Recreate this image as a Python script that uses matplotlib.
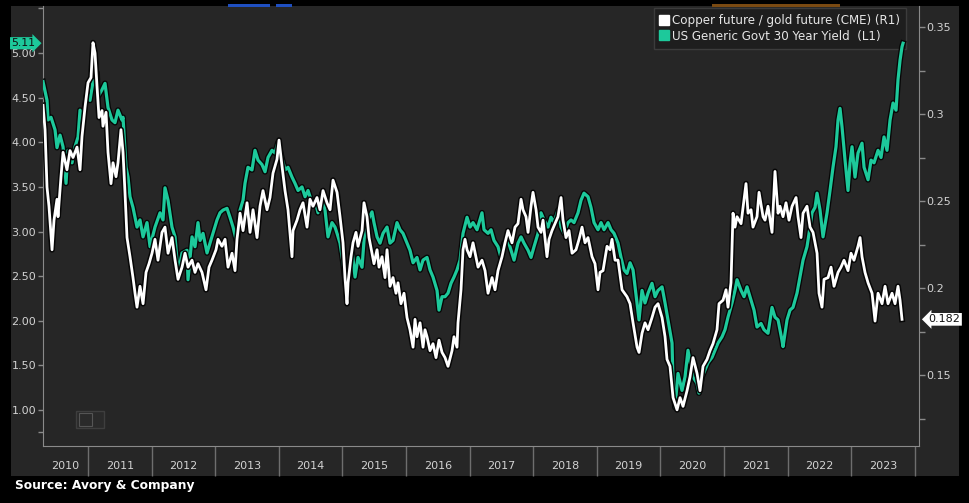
import matplotlib.pyplot as plt
import matplotlib.patheffects as pe
import matplotlib.transforms as mtransforms
from matplotlib.patches import Rectangle
from matplotlib.lines import Line2D

# US Generic Govt 30 Year Yield (left axis), decimal years
yield_years = [
    2010.292, 2010.355, 2010.371, 2010.418, 2010.481, 2010.512, 2010.560, 2010.607, 2010.654, 2010.685,
    2010.748, 2010.795, 2010.843, 2010.874, 2010.921, 2010.984, 2011.031, 2011.078, 2011.141, 2011.157,
    2011.220, 2011.267, 2011.314, 2011.377, 2011.424, 2011.471, 2011.534, 2011.550, 2011.597, 2011.629,
    2011.660, 2011.707, 2011.770, 2011.817, 2011.865, 2011.927, 2011.975, 2012.053, 2012.132, 2012.179,
    2012.210, 2012.258, 2012.320, 2012.368, 2012.415, 2012.478, 2012.556,
    2012.572, 2012.635, 2012.682, 2012.729, 2012.761, 2012.808, 2012.871, 2012.918, 2012.965, 2013.028,
    2013.075, 2013.122, 2013.185, 2013.232, 2013.280, 2013.342, 2013.390, 2013.437, 2013.468, 2013.515,
    2013.578, 2013.625, 2013.673, 2013.735, 2013.783, 2013.830, 2013.893, 2013.940, 2013.987, 2014.050,
    2014.097, 2014.144, 2014.207, 2014.254, 2014.302, 2014.364, 2014.412, 2014.459, 2014.522, 2014.569,
    2014.616, 2014.679, 2014.726, 2014.773, 2014.836,
    2014.883, 2014.915, 2014.962, 2015.009, 2015.072, 2015.103, 2015.151, 2015.198, 2015.245, 2015.308,
    2015.355, 2015.402, 2015.465, 2015.496, 2015.544, 2015.591, 2015.638, 2015.701, 2015.748, 2015.795,
    2015.858, 2015.905, 2015.952, 2016.015, 2016.062, 2016.110, 2016.172, 2016.220, 2016.267, 2016.330,
    2016.377, 2016.424, 2016.487, 2016.518, 2016.566, 2016.613, 2016.660, 2016.707, 2016.754, 2016.801,
    2016.849, 2016.896, 2016.959, 2017.006, 2017.053, 2017.116,
    2017.194, 2017.226, 2017.289, 2017.336, 2017.383, 2017.446, 2017.493, 2017.540, 2017.603, 2017.651,
    2017.698, 2017.760, 2017.808, 2017.855, 2017.918, 2017.965, 2018.012, 2018.075, 2018.122, 2018.169,
    2018.232, 2018.279, 2018.327, 2018.389, 2018.437, 2018.484, 2018.547, 2018.594, 2018.641, 2018.704,
    2018.751, 2018.798, 2018.861, 2018.908, 2018.956, 2019.018, 2019.066, 2019.113, 2019.176, 2019.223,
    2019.270, 2019.333, 2019.380, 2019.427,
    2019.474, 2019.522, 2019.569, 2019.632, 2019.663, 2019.710, 2019.757, 2019.805, 2019.867, 2019.915,
    2019.962, 2020.025, 2020.072, 2020.119, 2020.182, 2020.198, 2020.229, 2020.276, 2020.339, 2020.386,
    2020.433, 2020.481, 2020.512, 2020.575, 2020.606, 2020.654, 2020.701, 2020.748, 2020.811, 2020.858,
    2020.905, 2020.968, 2021.015, 2021.062, 2021.125, 2021.172, 2021.204, 2021.267, 2021.314, 2021.361,
    2021.424, 2021.471, 2021.518, 2021.581, 2021.628, 2021.691,
    2021.754, 2021.801, 2021.849, 2021.911, 2021.927, 2021.990, 2022.037, 2022.084, 2022.147, 2022.194,
    2022.242, 2022.304, 2022.352, 2022.383, 2022.430, 2022.462, 2022.509, 2022.556, 2022.619, 2022.666,
    2022.713, 2022.760, 2022.792, 2022.823, 2022.855, 2022.902, 2022.949, 2022.981, 2023.012, 2023.059,
    2023.106, 2023.169, 2023.201, 2023.264, 2023.311, 2023.358, 2023.421, 2023.468, 2023.515, 2023.562,
    2023.610, 2023.657, 2023.704, 2023.735, 2023.767, 2023.798, 2023.814,
]
yield_values = [
    4.68, 4.47, 4.25, 4.28, 4.14, 3.94, 4.08, 3.95, 3.54, 3.91,
    3.77, 3.95, 4.06, 4.36, 4.28, 4.55, 4.47, 4.68, 4.78, 4.51,
    4.59, 4.66, 4.39, 4.25, 4.22, 4.36, 4.25, 4.28, 3.72, 3.61,
    3.39, 3.27, 3.05, 3.13, 2.94, 3.10, 2.83, 3.05, 3.21, 3.13,
    3.49, 3.35, 3.05, 2.94, 2.53, 2.76, 2.79,
    2.46, 2.94, 2.83, 3.10, 2.90, 2.98, 2.76, 2.87, 2.98, 3.13,
    3.21, 3.24, 3.26, 3.16, 3.05, 2.87, 3.24, 3.35, 3.54, 3.72,
    3.69, 3.91, 3.80, 3.75, 3.67, 3.83, 3.91, 3.88, 4.00, 3.82,
    3.69, 3.72, 3.61, 3.54, 3.46, 3.50, 3.39, 3.46, 3.32, 3.35,
    3.21, 3.43, 3.24, 2.94, 3.10,
    3.05, 2.98, 2.87, 2.65, 2.27, 2.57, 2.79, 2.49, 2.71, 2.60,
    3.05, 3.13, 3.22, 3.10, 2.94, 2.87, 2.98, 3.05, 2.87, 2.90,
    3.10, 3.02, 2.98, 2.87, 2.79, 2.65, 2.71, 2.57, 2.68, 2.71,
    2.57, 2.49, 2.34, 2.12, 2.27, 2.27, 2.31, 2.42, 2.49, 2.57,
    2.68, 2.98, 3.16, 3.05, 3.10, 3.02,
    3.21, 3.02, 2.98, 3.02, 2.90, 2.83, 2.71, 2.87, 2.90, 2.79,
    2.68, 2.87, 2.94, 2.87, 2.79, 2.71, 2.83, 2.98, 3.21, 3.13,
    3.05, 3.16, 3.10, 3.24, 3.05, 2.98, 3.10, 3.13, 3.10, 3.21,
    3.35, 3.43, 3.39, 3.27, 3.10, 3.02, 3.10, 3.02, 3.10, 3.02,
    2.98, 2.87, 2.71, 2.57,
    2.53, 2.65, 2.57, 2.20, 2.01, 2.34, 2.20, 2.31, 2.42, 2.27,
    2.34, 2.38, 2.20, 2.01, 1.75, 1.30, 1.03, 1.41, 1.22, 1.37,
    1.67, 1.48, 1.37, 1.30, 1.19, 1.37, 1.45, 1.53, 1.59, 1.67,
    1.75, 1.82, 1.90, 2.04, 2.20, 2.34, 2.46, 2.34, 2.27, 2.38,
    2.23, 2.12, 1.93, 1.97, 1.90, 1.86,
    2.15, 2.04, 2.01, 1.78, 1.71, 2.01, 2.12, 2.15, 2.31, 2.49,
    2.68, 2.83, 3.05, 3.21, 3.27, 3.43, 3.24, 2.94, 3.21, 3.46,
    3.72, 3.95, 4.25, 4.38, 4.17, 3.80, 3.46, 3.77, 3.95, 3.61,
    3.88, 3.99, 3.72, 3.58, 3.80, 3.77, 3.91, 3.83, 4.06, 3.91,
    4.25, 4.44, 4.36, 4.70, 4.92, 5.07, 5.11,
]

# Copper future / gold future (right axis), decimal years
ratio_years = [
    2010.292, 2010.324, 2010.355, 2010.386, 2010.434, 2010.465, 2010.512, 2010.528, 2010.575, 2010.607,
    2010.669, 2010.717, 2010.764, 2010.827, 2010.874, 2010.905, 2010.953, 2011.000, 2011.047, 2011.078,
    2011.110, 2011.141, 2011.173, 2011.220, 2011.235, 2011.283, 2011.314, 2011.361, 2011.393, 2011.440,
    2011.471, 2011.518, 2011.550, 2011.581, 2011.613, 2011.660, 2011.707, 2011.739, 2011.770, 2011.817,
    2011.865, 2011.912, 2011.959, 2012.006, 2012.053, 2012.100, 2012.163, 2012.210, 2012.258, 2012.320,
    2012.368, 2012.415, 2012.478, 2012.525,
    2012.572, 2012.635, 2012.682, 2012.729, 2012.792, 2012.855, 2012.902, 2012.949,
    2013.012, 2013.044, 2013.106, 2013.154, 2013.201, 2013.264, 2013.311, 2013.342, 2013.390, 2013.437,
    2013.500, 2013.547, 2013.594, 2013.657, 2013.704, 2013.751, 2013.814, 2013.861, 2013.908, 2013.971,
    2014.003, 2014.050, 2014.097, 2014.144, 2014.207, 2014.223, 2014.286, 2014.333, 2014.380, 2014.443,
    2014.490, 2014.537, 2014.600, 2014.647, 2014.695, 2014.757,
    2014.805, 2014.852, 2014.915, 2014.962,
    2015.009, 2015.040, 2015.072, 2015.088, 2015.135, 2015.166, 2015.213, 2015.245, 2015.308, 2015.339,
    2015.386, 2015.418, 2015.465, 2015.496, 2015.544, 2015.575, 2015.622, 2015.669, 2015.701, 2015.748,
    2015.795, 2015.842, 2015.874, 2015.921, 2015.968,
    2016.015, 2016.062, 2016.110, 2016.141, 2016.172, 2016.220, 2016.267, 2016.298, 2016.330, 2016.377,
    2016.424, 2016.471, 2016.518, 2016.566, 2016.613, 2016.660, 2016.723, 2016.754, 2016.801, 2016.817,
    2016.864, 2016.896, 2016.927, 2016.959,
    2017.006, 2017.053,
    2017.132, 2017.194, 2017.242, 2017.289, 2017.352, 2017.399, 2017.446, 2017.509, 2017.556, 2017.603,
    2017.666, 2017.713, 2017.760, 2017.808, 2017.839, 2017.886, 2017.918, 2017.965, 2017.996,
    2018.044, 2018.075, 2018.122, 2018.154, 2018.216, 2018.248, 2018.295, 2018.342, 2018.389, 2018.437,
    2018.468, 2018.515, 2018.562, 2018.610, 2018.672, 2018.720, 2018.767, 2018.814, 2018.861, 2018.924,
    2018.971,
    2019.018, 2019.050, 2019.097, 2019.160, 2019.207, 2019.238, 2019.286, 2019.333, 2019.396,
    2019.474, 2019.522, 2019.569, 2019.632, 2019.663, 2019.710, 2019.757, 2019.805, 2019.867, 2019.915,
    2019.962,
    2020.025, 2020.072, 2020.103, 2020.150, 2020.198, 2020.261, 2020.308, 2020.355, 2020.418, 2020.465,
    2020.512, 2020.575, 2020.622, 2020.669, 2020.732, 2020.779, 2020.826, 2020.889, 2020.921, 2020.984,
    2021.031, 2021.062, 2021.109, 2021.141, 2021.172, 2021.204, 2021.267, 2021.314, 2021.345, 2021.377,
    2021.424, 2021.455, 2021.518, 2021.550, 2021.613,
    2021.644, 2021.691, 2021.754, 2021.801, 2021.849, 2021.880, 2021.927, 2021.974,
    2022.021, 2022.069, 2022.132, 2022.163, 2022.210, 2022.242, 2022.304, 2022.352, 2022.399, 2022.462,
    2022.493, 2022.540, 2022.572, 2022.635, 2022.682, 2022.729, 2022.792, 2022.839, 2022.886, 2022.949,
    2022.996,
    2023.043, 2023.106, 2023.138, 2023.169, 2023.216, 2023.264, 2023.327, 2023.374, 2023.421, 2023.484,
    2023.531, 2023.578, 2023.641, 2023.688, 2023.735, 2023.767, 2023.798,
]
ratio_values = [
    0.305, 0.291, 0.258, 0.247, 0.222, 0.239, 0.251, 0.241, 0.264, 0.278,
    0.268, 0.279, 0.275, 0.281, 0.268, 0.287, 0.304, 0.318, 0.321, 0.341,
    0.335, 0.316, 0.298, 0.302, 0.293, 0.301, 0.278, 0.260, 0.272, 0.264,
    0.272, 0.291, 0.278, 0.255, 0.229, 0.218, 0.206, 0.197, 0.189, 0.201,
    0.191, 0.209, 0.214, 0.220, 0.228, 0.216, 0.232, 0.235, 0.220, 0.229,
    0.216, 0.205, 0.212, 0.220,
    0.212, 0.216, 0.209, 0.214, 0.209, 0.199, 0.212, 0.216,
    0.222, 0.228, 0.224, 0.228, 0.212, 0.220, 0.210, 0.228, 0.243, 0.233,
    0.249, 0.232, 0.245, 0.229, 0.247, 0.256, 0.245, 0.252, 0.266, 0.274,
    0.285, 0.270, 0.256, 0.245, 0.218, 0.233, 0.239, 0.245, 0.249, 0.235,
    0.251, 0.247, 0.252, 0.245, 0.256, 0.249,
    0.245, 0.262, 0.255, 0.241,
    0.226, 0.206, 0.191, 0.203, 0.218, 0.226, 0.232, 0.224, 0.233, 0.249,
    0.241, 0.229, 0.220, 0.214, 0.222, 0.212, 0.218, 0.206, 0.222, 0.201,
    0.206, 0.197, 0.203, 0.191, 0.197,
    0.183, 0.176, 0.166, 0.182, 0.172, 0.180, 0.166, 0.176, 0.172, 0.164,
    0.168, 0.160, 0.170, 0.163, 0.160, 0.155, 0.164, 0.172, 0.166, 0.180,
    0.199, 0.222, 0.228, 0.222,
    0.218, 0.226,
    0.212, 0.216, 0.210, 0.197, 0.206, 0.199, 0.210, 0.218, 0.226, 0.233,
    0.226, 0.235, 0.237, 0.251, 0.245, 0.241, 0.232, 0.247, 0.255,
    0.245, 0.235, 0.232, 0.239, 0.218, 0.228, 0.233, 0.237, 0.241, 0.252,
    0.239, 0.229, 0.233, 0.220, 0.222, 0.228, 0.235, 0.226, 0.229, 0.218,
    0.214,
    0.199, 0.209, 0.210, 0.224, 0.222, 0.228, 0.216, 0.216, 0.199,
    0.195, 0.191, 0.180, 0.166, 0.163, 0.174, 0.180, 0.176, 0.183, 0.189,
    0.191,
    0.183, 0.172, 0.159, 0.155, 0.137, 0.130, 0.137, 0.132, 0.141, 0.149,
    0.160, 0.151, 0.141, 0.155, 0.159, 0.164, 0.168, 0.176, 0.191, 0.193,
    0.199, 0.189, 0.203, 0.243, 0.235, 0.241, 0.237, 0.251, 0.260, 0.243,
    0.245, 0.235, 0.241, 0.255, 0.241,
    0.239, 0.247, 0.232, 0.267, 0.243, 0.247, 0.241, 0.249,
    0.239, 0.247, 0.252, 0.241, 0.229, 0.243, 0.247, 0.235, 0.232, 0.220,
    0.197, 0.189, 0.205, 0.206, 0.212, 0.201, 0.209, 0.212, 0.216, 0.210,
    0.220,
    0.216, 0.224, 0.229, 0.218, 0.209, 0.203, 0.197, 0.181, 0.197, 0.191,
    0.201, 0.191, 0.197, 0.191, 0.201, 0.193, 0.182,
]

year_labels = ['2010', '2011', '2012', '2013', '2014', '2015', '2016',
               '2017', '2018', '2019', '2020', '2021', '2022', '2023']
legend_labels = ['Copper future / gold future (CME) (R1)',
                 'US Generic Govt 30 Year Yield  (L1)']

GREEN = '#1dc99b'
PANEL = '#262626'
TICK = '#8a8a8a'
LABEL = '#d2d2d2'

W, H = 970, 503
fig = plt.figure(figsize=(W / 100, H / 100), dpi=100, facecolor='black')

# dark panel behind the chart and the year band
fig.patches.append(Rectangle((11 / W, 1 - 476 / H), 948 / W, 470 / H,
                             transform=fig.transFigure, fc=PANEL, ec='none', zorder=-5))
# bits of the terminal toolbar peeking in at the top
for x0, x1, c in [(228, 270, '#1f4fc0'), (276, 292, '#1f4fc0'), (712, 840, '#7a4a12')]:
    fig.patches.append(Rectangle((x0 / W, 1 - 7 / H), (x1 - x0) / W, 2.5 / H,
                                 transform=fig.transFigure, fc=c, ec='none', zorder=1))

ax = fig.add_axes([43 / W, 1 - 446 / H, 876 / W, 440 / H])
ax.set_facecolor(PANEL)
ax2 = ax.twinx()
ax2.patch.set_visible(False)

outline = [pe.Stroke(linewidth=4.2, foreground='#060606'), pe.Normal()]
ax.plot(yield_years, yield_values, color=GREEN, lw=2.3, path_effects=outline, zorder=3)
ax2.plot(ratio_years, ratio_values, color='white', lw=2.0, path_effects=outline, zorder=3)

ax.set_xlim(2010.292, 2024.065)
ax.set_ylim(0.597, 5.527)
ax2.set_ylim(0.1092, 0.3621)

for s in ['top', 'right']:
    ax.spines[s].set_visible(False)
for s in ['left', 'bottom']:
    ax.spines[s].set_color(TICK)
for s in ['top', 'left', 'bottom']:
    ax2.spines[s].set_visible(False)
ax2.spines['right'].set_color(TICK)

# x axis: year separators, labels centred in each year
ax.set_xticks(range(2011, 2025))
ax.set_xticklabels([''] * 14)
label_pos = [(2010.292 + 2011) / 2] + [y + 0.5 for y in range(2011, 2024)]
ax.set_xticks(label_pos, minor=True)
ax.set_xticklabels(year_labels, minor=True)
ax.tick_params(axis='x', which='major', length=21.6, width=1, color='#6e6e6e', direction='out')
ax.tick_params(axis='x', which='minor', length=0, pad=11, labelsize=8, labelcolor=LABEL)

# left axis
ax.set_yticks([1.0, 1.5, 2.0, 2.5, 3.0, 3.5, 4.0, 4.5, 5.0])
ax.set_yticklabels(['%.2f' % v for v in [1.0, 1.5, 2.0, 2.5, 3.0, 3.5, 4.0, 4.5, 5.0]])
ax.set_yticks([0.75, 5.5], minor=True)
ax.tick_params(axis='y', which='both', length=3.5, width=1, color=TICK, pad=1.5,
               labelsize=8, labelcolor=LABEL)

# right axis
ax2.set_yticks([0.15, 0.2, 0.25, 0.3, 0.35])
ax2.set_yticklabels(['0.15', '0.2', '0.25', '0.3', '0.35'])
ax2.set_yticks([0.125, 0.175, 0.225, 0.275, 0.325], minor=True)
ax2.tick_params(axis='y', which='both', length=4, width=1, color=TICK, pad=1,
                labelsize=8, labelcolor=LABEL)

# last-value tags
tl = mtransforms.blended_transform_factory(ax.transAxes, ax.transData)
ax.text(-0.009, yield_values[-1], '%.2f' % yield_values[-1], transform=tl,
        ha='right', va='center', fontsize=7.8, color='#101010', clip_on=False, zorder=10,
        bbox=dict(boxstyle='rarrow,pad=0.1', fc=GREEN, ec='none'))
tr = mtransforms.blended_transform_factory(ax2.transAxes, ax2.transData)
ax2.text(1.011, ratio_values[-1], '%.3f' % ratio_values[-1], transform=tr,
         ha='left', va='center', fontsize=8, color='#101010', clip_on=False, zorder=10,
         bbox=dict(boxstyle='larrow,pad=0.12', fc='white', ec='none'))

# legend sits under the green line (the yield's last spike runs over its corner)
handles = [Line2D([], [], marker='s', ls='none', mfc='white', mec='white', ms=7.5),
           Line2D([], [], marker='s', ls='none', mfc=GREEN, mec=GREEN, ms=7.5)]
leg = ax.legend(handles, legend_labels, loc='upper right',
                bbox_to_anchor=(906 / W, 1 - 8 / H), bbox_transform=fig.transFigure,
                fontsize=8.6, labelcolor='#e6e6e6', facecolor='#1e1e1e', edgecolor='#3c3c3c',
                framealpha=1, fancybox=False, handlelength=0.7, handletextpad=0.3,
                borderpad=0.5, labelspacing=0.22, borderaxespad=0)
leg.get_frame().set_linewidth(1)
leg.set_zorder(2)

# small chart-type widget in the lower left
fig.patches.append(Rectangle((76 / W, 1 - 428 / H), 28 / W, 17 / H, transform=fig.transFigure,
                             fc='#2a2a2a', ec='#3e3e3e', lw=1, zorder=5))
fig.patches.append(Rectangle((79 / W, 1 - 426 / H), 13 / W, 13 / H, transform=fig.transFigure,
                             fc='none', ec='#555555', lw=0.8, zorder=6))
fig.text(98.5 / W, 1 - 420 / H, '\u25be', color='#666666', fontsize=5, ha='center', va='center')

fig.text(15 / W, 1 - 485 / H, 'Source: Avory & Company', color='white',
         fontweight='bold', fontsize=8.8, va='center', ha='left')

fig.savefig('out.png', dpi=100, facecolor='black')
